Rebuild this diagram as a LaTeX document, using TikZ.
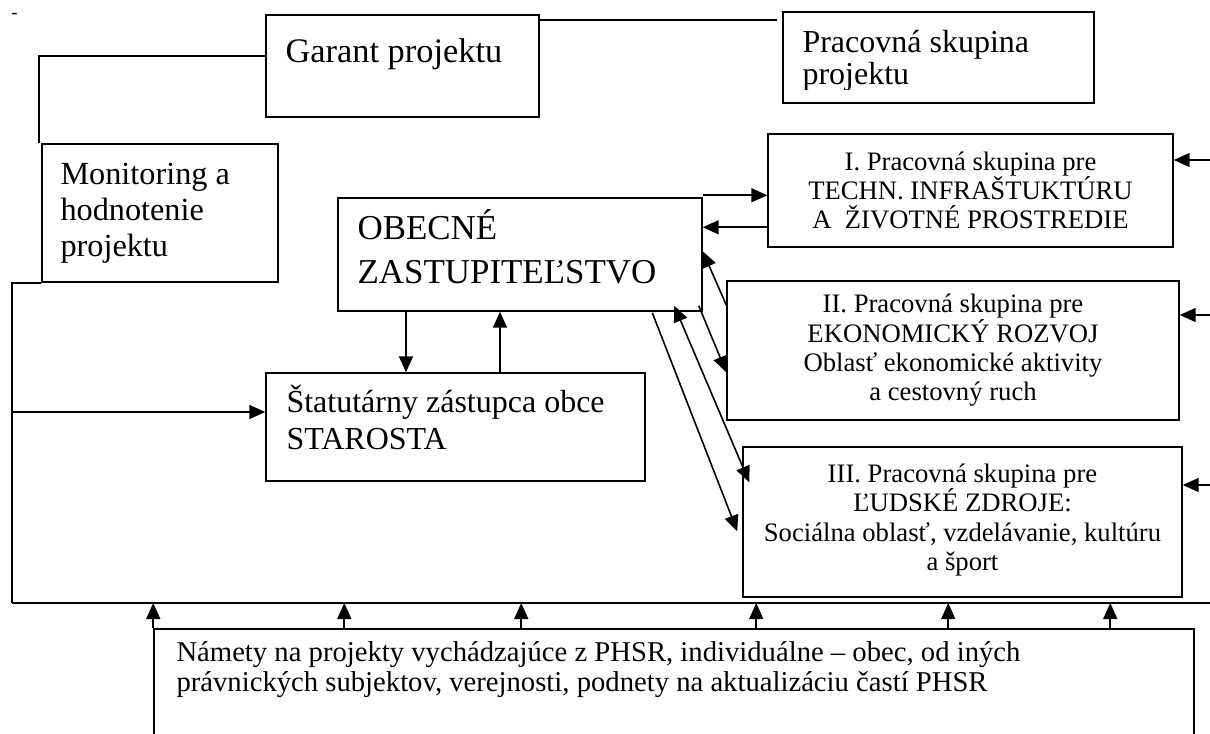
\documentclass[tikz,border=0pt]{standalone}
\usepackage{fontspec}
\setmainfont{Liberation Serif}
\usetikzlibrary{arrows.meta, fit, calc}

\tikzset{
  box/.style={draw, line width=1.1pt, inner sep=0pt},
  grptxt/.style={align=center, font=\fontsize{20}{22}\selectfont},
  lbl/.style={anchor=base west, inner sep=0pt, align=left},
  conn/.style={line width=1.2pt},
  arr/.style={conn, -{Triangle[length=12pt,width=10.5pt]}},
  arrboth/.style={conn, {Triangle[length=12pt,width=10.5pt]}-{Triangle[length=12pt,width=10.5pt]}},
}

\begin{document}
\begin{tikzpicture}[x=0.75pt,y=0.75pt,yscale=-1,xscale=1]
\useasboundingbox (0,0) rectangle (1210,733);
\clip (0,0) rectangle (1210,733);

%Shape: Rectangle
\node[box, fit={(266,15) (539,117)}] (garant) {};
\node[box, fit={(783,12) (1094,103)}] (pskup) {};
\node[box, fit={(42,144) (278,282)}] (monit) {};
\node[box, fit={(338,198) (702,311)}] (obz) {};
\node[box, fit={(266,373) (645,481)}] (stat) {};
\node[box, fit={(154,629) (1194,780)}] (namety) {};

%Shape: Rectangle (pracovne skupiny)
\node[box, fit={(768,134) (1173,247)}] (grp1) {};
\node[box, fit={(727,281) (1179,420)}] (grp2) {};
\node[box, fit={(743,447) (1182,597)}] (grp3) {};

% Text Node
\node[grptxt] (grp1txt) at (grp1.center) {I. Pracovná skupina pre\\TECHN. INFRAŠTUKTÚRU\\A\ \ ŽIVOTNÉ PROSTREDIE};
% Text Node
\node[grptxt] (grp2txt) at (grp2.center) {II. Pracovná skupina pre\\EKONOMICKÝ ROZVOJ\\Oblasť ekonomické aktivity\\a cestovný ruch};
% Text Node
\node[grptxt] (grp3txt) at ($(grp3.center)+(0,-2)$) {III. Pracovná skupina pre\\ĽUDSKÉ ZDROJE:\\Sociálna oblasť, vzdelávanie, kultúru\\a šport};

% Text Node
\node[lbl, font=\fontsize{14}{14}\selectfont] (dash) at (11,18) {-};
% Text Node
\node[lbl, font=\fontsize{25.8}{30}\selectfont] (garanttxt) at ($(garant.north west)+(20,48)$) {Garant projektu};
% Text Node
\begin{scope}
\clip (pskup.north west) rectangle ($(pskup.north east)+(0,78)$);
\node[lbl, font=\fontsize{24}{24}\selectfont] (pskuptxt) at ($(pskup.north west)+(20,73)$) {Pracovná skupina\\projektu};
\end{scope}
% Text Node
\node[lbl, font=\fontsize{24.2}{27}\selectfont] (monittxt) at ($(monit.north west)+(19,113)$) {Monitoring a\\hodnotenie\\projektu};
% Text Node
\node[lbl, font=\fontsize{26.2}{33}\selectfont] (obztxt) at ($(obz.north west)+(20,86)$) {OBECNÉ\\ZASTUPITEĽSTVO};
% Text Node
\node[lbl, font=\fontsize{24}{27.75}\selectfont] (stattxt) at ($(stat.north west)+(21,77)$) {Štatutárny zástupca obce\\STAROSTA};
% Text Node
\node[lbl, font=\fontsize{21.5}{22.5}\selectfont] (natxt) at ($(namety.north west)+(23,63)$) {Námety na projekty vychádzajúce z PHSR, individuálne – obec, od iných\\právnických subjektov, verejnosti, podnety na aktualizáciu častí PHSR};

\coordinate (bl) at (12,603);
\coordinate (br) at (1212,603);
\coordinate (sl) at (12,412);
\coordinate (dn) at (406,0);
\coordinate (up) at (500,0);
\coordinate (r1) at (1212,160);
\coordinate (r2) at (1212,315);
\coordinate (r3) at (1212,485);

%Straight Lines
\draw[conn] ($(garant.north east)+(0,6)$) -- ($(pskup.north west)+(-5,9)$);
\draw[conn] ($(garant.north west)+(0,42)$) -| ($(monit.north west)+(-2,0)$);
\draw[conn] (monit.south west) -- (monit.south west -| bl) -- (bl);
\draw[conn, line width=1.7pt] (bl) -- (br);

%Straight Lines
\draw[arr] (sl) -- (sl -| stat.west);
\draw[arr] (obz.south -| dn) -- (stat.north -| dn);
\draw[arr] (stat.north -| up) -- (obz.south -| up);

%Straight Lines
\draw[arr] ($(obz.north east)+(0,-2)$) -- ($(grp1.north west)+(0,62)$);
\draw[arr] ($(grp1.north west)+(0,94)$) -- ($(obz.north east)+(0,30)$);
\draw[arr] ($(grp2.north west)+(1,27)$) -- ($(obz.north east)+(0,54)$);
\draw[arr] ($(obz.south east)+(-4,-6)$) -- ($(grp2.north west)+(0,92)$);
\draw[arrboth] ($(obz.south west)+(337,-6)$) -- ($(grp3.north west)+(7,36)$);
\draw[arr] ($(obz.south west)+(315,1)$) -- ($(grp3.north west)+(-5,85)$);

%Straight Lines
\draw[arr] (r1) -- (r1 -| grp1.east);
\draw[arr] (r2) -- (r2 -| grp2.east);
\draw[arr] (r3) -- (r3 -| grp3.east);

%Straight Lines
\foreach \dx in {0,191,368,603,795,957}
  \draw[arr] ($(namety.north west)+(\dx,0)$) coordinate (t) -- (t |- bl);

\end{tikzpicture}
\end{document}
